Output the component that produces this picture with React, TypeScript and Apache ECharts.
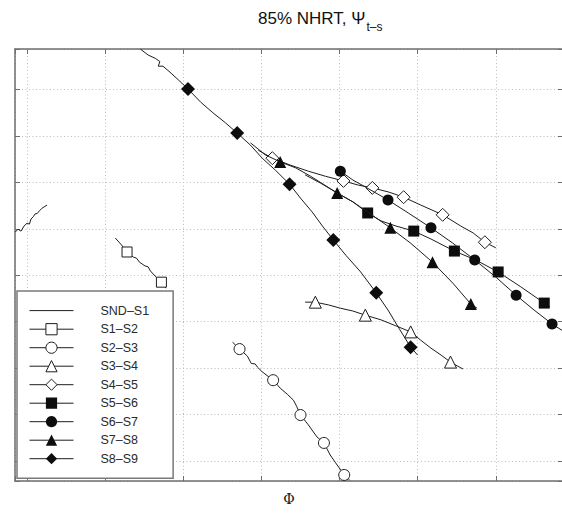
import React, { useEffect, useRef } from 'react';
import * as echarts from 'echarts';

// ---- text ----
const titleMain = '85% NHRT, Ψ';
const titleSub = 't–s';
const xName = 'Φ';
const seriesNames = ['SND–S1', 'S1–S2', 'S2–S3', 'S3–S4', 'S4–S5', 'S5–S6', 'S6–S7', 'S7–S8', 'S8–S9'];

// ---- data (grid units: one dotted grid cell = 1) ----
const sndS1Path = [[-0.15, 4.93], [-0.115, 4.99], [-0.077, 4.95], [-0.038, 5.06], [0.0, 5.12], [0.03, 5.10], [0.051, 5.21], [0.08, 5.26], [0.103, 5.32], [0.13, 5.33], [0.167, 5.40], [0.19, 5.44], [0.218, 5.47], [0.256, 5.51]];
const sndS1Marks: number[] = [];

const s1s2Path = [[1.13, 4.80], [1.21, 4.65], [1.28, 4.50], [1.36, 4.39], [1.40, 4.37], [1.44, 4.28], [1.51, 4.20], [1.55, 4.18], [1.58, 4.09], [1.64, 3.98], [1.72, 3.85], [1.78, 3.72]];
const s1s2Marks = [2, 10];

const s2s3Path = [[2.63, 2.56], [2.72, 2.41], [2.82, 2.26], [2.87, 2.10], [2.92, 2.09], [2.95, 2.02], [3.01, 1.92], [3.15, 1.74], [3.24, 1.57], [3.33, 1.44], [3.41, 1.31], [3.45, 1.18], [3.50, 0.99], [3.60, 0.78], [3.71, 0.52], [3.80, 0.39], [3.88, 0.13], [3.95, -0.04], [4.06, -0.30], [4.13, -0.41]];
const s2s3Marks = [1, 7, 12, 15, 18];

const s3s4Path = [[3.56, 3.42], [3.69, 3.42], [3.86, 3.36], [4.01, 3.29], [4.17, 3.23], [4.33, 3.14], [4.53, 3.04], [4.72, 2.91], [4.91, 2.78], [5.04, 2.60], [5.17, 2.43], [5.30, 2.28], [5.42, 2.13], [5.58, 1.98]];
const s3s4Marks = [1, 5, 8, 12];

const s4s5Path = [[2.96, 6.69], [3.14, 6.52], [3.37, 6.37], [3.60, 6.24], [3.82, 6.13], [4.05, 6.03], [4.24, 5.94], [4.42, 5.88], [4.63, 5.79], [4.82, 5.68], [5.04, 5.51], [5.32, 5.30], [5.55, 5.06], [5.71, 4.91], [5.86, 4.71], [6.00, 4.59]];
const s4s5Marks = [1, 5, 7, 9, 11, 14];

const s5s6Path = [[3.56, 6.16], [3.76, 5.98], [3.97, 5.77], [4.17, 5.58], [4.36, 5.34], [4.53, 5.17], [4.72, 5.06], [4.95, 4.95], [5.17, 4.78], [5.47, 4.52], [5.74, 4.33], [6.03, 4.07], [6.32, 3.75], [6.62, 3.40], [6.69, 3.32]];
const s5s6Marks = [4, 7, 9, 11, 13];

const s6s7Path = [[4.01, 6.24], [4.17, 6.05], [4.33, 5.90], [4.62, 5.62], [4.88, 5.34], [5.17, 5.02], [5.45, 4.69], [5.73, 4.33], [6.00, 3.96], [6.26, 3.57], [6.49, 3.25], [6.72, 2.95], [6.86, 2.80]];
const s6s7Marks = [0, 3, 5, 7, 9, 11];

const s7s8Path = [[2.86, 6.85], [3.05, 6.59], [3.24, 6.44], [3.44, 6.31], [3.63, 6.13], [3.97, 5.77], [4.17, 5.58], [4.36, 5.36], [4.65, 5.02], [4.91, 4.69], [5.19, 4.28], [5.45, 3.83], [5.68, 3.38], [5.76, 3.29]];
const s7s8Marks = [2, 5, 8, 10, 12];

const s8s9Path = [[1.45, 8.87], [1.55, 8.74], [1.64, 8.67], [1.70, 8.60], [1.68, 8.50], [1.74, 8.50], [1.83, 8.37], [1.94, 8.20], [2.06, 8.01], [2.22, 7.73], [2.37, 7.51], [2.54, 7.28], [2.69, 7.06], [2.86, 6.80], [3.01, 6.52], [3.18, 6.26], [3.36, 5.96], [3.50, 5.66], [3.65, 5.36], [3.78, 5.06], [3.92, 4.76], [4.08, 4.43], [4.27, 4.07], [4.47, 3.62], [4.62, 3.25], [4.76, 2.86], [4.91, 2.45], [5.00, 2.28]];
const s8s9Marks = [8, 12, 16, 20, 23, 26];

const paths = [sndS1Path, s1s2Path, s2s3Path, s3s4Path, s4s5Path, s5s6Path, s6s7Path, s7s8Path, s8s9Path];
const marks = [sndS1Marks, s1s2Marks, s2s3Marks, s3s4Marks, s4s5Marks, s5s6Marks, s6s7Marks, s7s8Marks, s8s9Marks];

// ---- styling ----
const symbols = ['circle', 'rect', 'circle', 'triangle', 'diamond', 'rect', 'circle', 'triangle', 'diamond'];
const symbolSizes = [0, 10, 11, 12, 13, 11, 11, 12, 14];
const openFlags = [true, true, true, true, true, false, false, false, false];

const xMin = -0.154, xMax = 6.86, yMin = -0.43, yMax = 8.87;
const FONT = 'Liberation Sans, Arial, Helvetica, sans-serif';
const frameColor = '#6e6e6e';
const ink = '#1e1e1e';

function buildOption() {
  const series = seriesNames.map((name, k) => {
    const open = openFlags[k];
    return {
      type: 'line',
      name,
      symbol: symbols[k],
      symbolSize: symbolSizes[k],
      showSymbol: true,
      clip: true,
      lineStyle: { color: ink, width: 1 },
      itemStyle: open
        ? { color: '#ffffff', borderColor: ink, borderWidth: 1 }
        : { color: '#0d0d0d', borderColor: '#0d0d0d', borderWidth: 0 },
      emphasis: { disabled: true },
      data: paths[k].map((p, i) => ({
        value: p,
        symbol: marks[k].indexOf(i) >= 0 ? symbols[k] : 'none',
      })),
      z: 2 + k * 0.01,
    };
  });

  const legendData = seriesNames.map((name, k) => {
    if (k === 0) {
      return { name, itemStyle: { opacity: 0, color: 'rgba(0,0,0,0)', borderColor: 'rgba(0,0,0,0)' }, lineStyle: { color: ink, width: 1 } };
    }
    return {
      name,
      itemStyle: openFlags[k]
        ? { color: '#ffffff', borderColor: ink, borderWidth: 1 }
        : { color: '#0d0d0d', borderColor: '#0d0d0d', borderWidth: 0 },
      lineStyle: { color: ink, width: 1 },
    };
  });

  const hiddenAxisCommon = {
    type: 'value',
    axisLabel: { show: false },
    axisLine: { show: true, onZero: false, lineStyle: { color: frameColor, width: 1.5 } },
    axisTick: { show: true, inside: true, length: 5, lineStyle: { color: frameColor, width: 1 } },
    minInterval: 1,
    maxInterval: 1,
  };

  const gridLine = { show: true, lineStyle: { color: '#bdbdbd', width: 1, type: [1, 2.5] } };

  return {
    animation: false,
    backgroundColor: '#ffffff',
    title: {
      left: 258,
      top: 10,
      padding: 0,
      text: `{m|${titleMain}}{s|${titleSub}}`,
      textStyle: {
        fontWeight: 'normal',
        rich: {
          m: { fontFamily: FONT, fontSize: 17, fontWeight: 'normal', color: '#111', lineHeight: 21, verticalAlign: 'top' },
          s: { fontFamily: FONT, fontSize: 12, fontWeight: 'normal', color: '#111', lineHeight: 15, padding: [11, 0, 0, 1], verticalAlign: 'top' },
        },
      },
    },
    grid: { left: 15, top: 49, width: 548, height: 432, containLabel: false, outerBoundsMode: 'none' },
    xAxis: [
      {
        ...hiddenAxisCommon,
        position: 'bottom',
        min: xMin,
        max: xMax,
        splitLine: gridLine,
        name: xName,
        nameLocation: 'middle',
        nameGap: 11,
        nameTextStyle: { fontFamily: 'DejaVu Serif, Liberation Serif, serif', fontSize: 14, color: '#222' },
      },
      {
        ...hiddenAxisCommon,
        position: 'top',
        min: xMin,
        max: xMax,
        splitLine: { show: false },
      },
    ],
    yAxis: [
      {
        ...hiddenAxisCommon,
        position: 'left',
        min: yMin,
        max: yMax,
        splitLine: gridLine,
      },
      {
        ...hiddenAxisCommon,
        position: 'right',
        min: yMin,
        max: yMax,
        splitLine: { show: false },
      },
    ],
    legend: {
      orient: 'vertical',
      left: 17,
      top: 291,
      padding: [13, 24, 13, 12],
      itemWidth: 44,
      itemHeight: 14,
      itemGap: 5.5,
      backgroundColor: '#ffffff',
      borderColor: '#7a7a7a',
      borderWidth: 1.5,
      borderRadius: 0,
      selectedMode: false,
      textStyle: { fontFamily: FONT, fontSize: 12.5, color: '#2a2a2a', padding: [0, 0, 0, 22] },
      data: legendData,
      z: 10,
    },
    series,
  };
}

export default function App() {
  const ref = useRef<HTMLDivElement>(null);
  useEffect(() => {
    if (!ref.current) return;
    const chart = echarts.init(ref.current, undefined, { renderer: 'svg' });
    chart.setOption(buildOption() as any);
    return () => chart.dispose();
  }, []);
  return (
    <div
      ref={ref}
      style={{ position: 'absolute', left: 0, top: 0, width: 562, height: 517, background: '#fff' }}
    />
  );
}
